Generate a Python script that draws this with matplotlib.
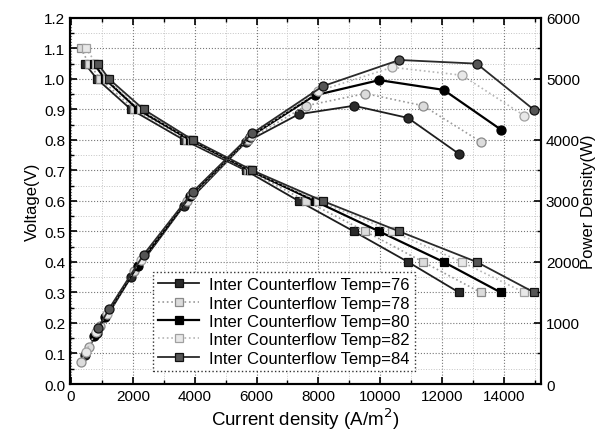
import matplotlib
matplotlib.use("Agg")
import matplotlib.pyplot as plt
from matplotlib.ticker import MultipleLocator

plt.rcParams['font.family'] = ['Liberation Sans', 'DejaVu Sans']

# --- data (current density in A/m^2) ---
temps = [76, 78, 80, 82, 84]

volt_76 = [1.05, 1.0, 0.9, 0.8, 0.7, 0.6, 0.5, 0.4, 0.3]
curr_76 = [450, 840, 1940, 3650, 5650, 7360, 9150, 10900, 12550]
pow_76 = [470, 840, 1750, 2920, 3960, 4420, 4560, 4360, 3770]

volt_78 = [1.1, 1.05, 1.0, 0.9, 0.8, 0.7, 0.6, 0.5, 0.4, 0.3]
curr_78 = [320, 580, 950, 2050, 3750, 5720, 7600, 9520, 11390, 13250]
pow_78 = [360, 610, 950, 1850, 3000, 4000, 4560, 4760, 4560, 3970]

volt_80 = [1.05, 1.0, 0.9, 0.8, 0.7, 0.6, 0.5, 0.4, 0.3]
curr_80 = [740, 1100, 2160, 3850, 5780, 7880, 9970, 12050, 13900]
pow_80 = [780, 1100, 1940, 3080, 4050, 4730, 4980, 4820, 4170]

volt_82 = [1.1, 1.05, 1.0, 0.9, 0.8, 0.7, 0.6, 0.5, 0.4, 0.3]
curr_82 = [480, 820, 1150, 2250, 3900, 5820, 8000, 10390, 12640, 14650]
pow_82 = [530, 860, 1150, 2030, 3120, 4070, 4800, 5190, 5060, 4400]

volt_84 = [1.05, 1.0, 0.9, 0.8, 0.7, 0.6, 0.5, 0.4, 0.3]
curr_84 = [870, 1230, 2350, 3940, 5870, 8140, 10620, 13120, 14980]
pow_84 = [910, 1230, 2120, 3150, 4110, 4880, 5310, 5250, 4490]

volts = [volt_76, volt_78, volt_80, volt_82, volt_84]
currs = [curr_76, curr_78, curr_80, curr_82, curr_84]
powers = [pow_76, pow_78, pow_80, pow_82, pow_84]

# line styles per temperature (black solid for 76/80/84, grey dotted for 78/82)
styles = [
    dict(color="#1e1e1e", ls="-", lw=1.3, mfc="#2a2a2a", mec="#111111"),
    dict(color="#9a9a9a", ls=":", lw=1.2, mfc="#dcdcdc", mec="#8a8a8a"),
    dict(color="#000000", ls="-", lw=1.6, mfc="#000000", mec="#000000"),
    dict(color="#b5b5b5", ls=":", lw=1.2, mfc="#e8e8e8", mec="#a0a0a0"),
    dict(color="#2a2a2a", ls="-", lw=1.3, mfc="#555555", mec="#111111"),
]

fig = plt.figure(figsize=(6.0, 4.39), dpi=100)
ax = fig.add_axes([0.1167, 0.123, 0.785, 0.834])
ax2 = ax.twinx()

handles = []
for t, v, c, p, st in zip(temps, volts, currs, powers, styles):
    h, = ax.plot(c, v, color=st["color"], ls=st["ls"], lw=st["lw"],
                 marker="s", ms=5.5, mfc=st["mfc"], mec=st["mec"], mew=0.9,
                 label=f"Inter Counterflow Temp={t}", zorder=3)
    handles.append(h)
    ax2.plot(c, p, color=st["color"], ls=st["ls"], lw=st["lw"],
             marker="o", ms=6.5, mfc=st["mfc"], mec=st["mec"], mew=0.9, zorder=3)

ax.set_xlim(-30, 15200)
ax.set_ylim(0.0, 1.2)
ax2.set_ylim(0, 6000)

ax.xaxis.set_major_locator(MultipleLocator(2000))
ax.xaxis.set_minor_locator(MultipleLocator(1000))
ax.yaxis.set_minor_locator(MultipleLocator(0.05))
ax2.yaxis.set_major_locator(MultipleLocator(1000))
ax2.yaxis.set_minor_locator(MultipleLocator(500))

ax.set_yticks([i / 10 for i in range(13)])
ax.set_yticklabels([f"{i / 10:.1f}" for i in range(13)])

ax.grid(which="major", ls=":", color="#777777", lw=0.8)
ax.grid(which="minor", ls=":", color="#c4c4c4", lw=0.7)
ax.set_axisbelow(True)

ax.tick_params(which="both", direction="in", top=True, labelsize=11)
ax.tick_params(which="major", length=5, width=1.2)
ax.tick_params(which="minor", length=3, width=1.0)
ax2.tick_params(which="both", direction="in", labelsize=11)
ax2.tick_params(which="major", length=5, width=1.2)
ax2.tick_params(which="minor", length=3, width=1.0)

for a in (ax, ax2):
    for s in a.spines.values():
        s.set_linewidth(1.5)

ax.set_xlabel("Current density (A/m$^2$)", fontsize=13.5, labelpad=2)
ax.set_ylabel("Voltage(V)", fontsize=12, labelpad=3)
ax2.set_ylabel("Power Density(W)", fontsize=12, labelpad=1)

# legend lives on the twin axes so it sits above the power curves
leg = ax2.legend(handles=handles, loc="lower left", bbox_to_anchor=(0.158, 0.014),
                 fontsize=12, frameon=True, fancybox=False, handlelength=2.5,
                 borderpad=0.3, labelspacing=0.2, handletextpad=0.6,
                 framealpha=1.0)
leg.get_frame().set_edgecolor("#333333")
leg.get_frame().set_linestyle(":")
leg.get_frame().set_linewidth(1.0)

fig.savefig("out.png", dpi=100)
